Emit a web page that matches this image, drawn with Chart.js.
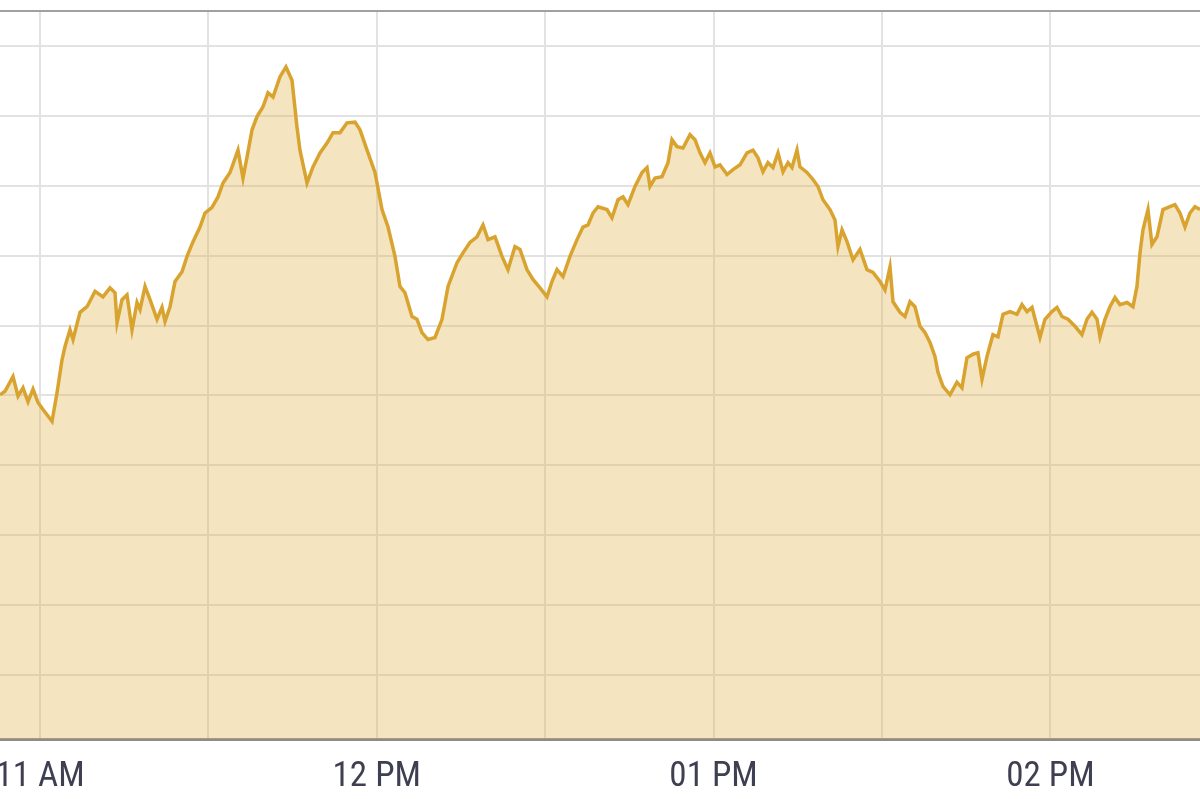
<!DOCTYPE html>
<html>
<head>
<meta charset="utf-8">
<script src="https://cdn.jsdelivr.net/npm/chart.js@4.4.1/dist/chart.umd.min.js"></script>
<style>
  html, body { margin: 0; padding: 0; background: #fff; }
  #priceChart { display: block; }
</style>
</head>
<body>
<canvas id="priceChart" width="1200" height="799"></canvas>
<script>
// minutes after 11:00
const minutes = [
  -7.13, -6.24, -4.81, -3.92, -3.03, -2.14, -1.25, -0.36, 0.53, 2.14,
  3.03, 3.92, 4.45, 5.34, 5.88, 7.13, 8.37, 9.80, 11.22, 12.47,
  13.36, 13.72, 14.61, 15.50, 16.39, 17.28, 17.82, 18.71, 19.60, 20.84,
  21.73, 22.27, 23.16, 24.05, 25.30, 26.19, 27.26, 28.50, 29.39, 30.64,
  31.71, 32.60, 33.85, 35.27, 36.16, 36.88, 37.77, 38.66, 39.73, 40.62,
  41.51, 42.76, 43.82, 44.89, 45.78, 46.31, 47.57, 48.63, 49.88, 51.13,
  52.20, 53.45, 54.69, 56.12, 57.01, 58.26, 59.68, 60.93, 62.00, 63.24,
  64.13, 65.02, 66.27, 67.16, 68.05, 69.12, 70.37, 71.62, 72.69, 74.29,
  75.36, 76.60, 77.85, 78.92, 79.81, 81.06, 82.31, 83.37, 84.62, 85.51,
  86.76, 87.83, 89.08, 90.32, 91.21, 92.10, 93.17, 94.42, 95.67, 96.73,
  97.63, 98.52, 99.41, 101.01, 101.90, 102.97, 103.86, 104.75, 106.00, 107.25,
  108.14, 108.67, 109.56, 110.81, 111.88, 112.59, 113.48, 114.55, 115.80, 116.69,
  117.58, 118.47, 119.36, 120.25, 121.14, 122.39, 123.46, 124.71, 125.95, 127.02,
  127.91, 128.80, 129.69, 130.58, 131.48, 132.37, 133.26, 133.97, 134.86, 135.39,
  136.64, 137.71, 138.60, 139.49, 140.74, 141.63, 142.16, 142.88, 143.77, 144.84,
  146.08, 147.33, 148.40, 149.65, 150.54, 151.43, 151.97, 153.21, 154.10, 154.99,
  155.88, 156.77, 157.66, 158.55, 159.44, 159.98, 160.87, 162.12, 163.36, 164.25,
  165.14, 166.21, 167.10, 167.82, 168.71, 169.77, 170.67, 171.56, 172.81, 174.05,
  174.94, 175.84, 176.73, 177.62, 178.15, 179.04, 180.29, 181.18, 182.07, 183.14,
  184.39, 185.63, 186.52, 187.41, 188.31, 188.84, 189.73, 190.62, 191.51, 192.40,
  193.65, 194.72, 195.43, 195.97, 196.50, 197.39, 198.10, 198.99, 200.06, 201.31,
  202.20, 203.09, 203.98, 204.87, 205.76, 206.66
];

const prices = [
  50.1, 50.6, 52.7, 49.9, 51.1, 49.1, 50.9, 49.0, 48.0, 46.3,
  50.4, 55.1, 57.0, 59.4, 58.0, 61.9, 62.7, 64.9, 64.1, 65.4,
  64.7, 60.4, 63.7, 64.4, 59.4, 63.3, 62.3, 65.6, 63.7, 60.9,
  62.6, 60.6, 62.7, 66.3, 67.7, 69.9, 72.0, 74.1, 76.1, 76.9,
  78.4, 80.4, 81.9, 85.1, 81.1, 84.1, 88.0, 89.9, 91.3, 93.3,
  92.7, 95.6, 97.0, 95.1, 88.4, 85.1, 80.4, 82.7, 84.7, 86.1,
  87.6, 87.6, 89.0, 89.1, 88.0, 85.1, 81.9, 76.6, 74.1, 69.9,
  65.6, 64.7, 61.3, 60.9, 59.0, 58.0, 58.3, 60.9, 65.6, 69.0,
  70.4, 71.9, 72.7, 74.4, 72.3, 72.7, 69.9, 68.0, 71.3, 70.9,
  68.0, 66.6, 65.4, 64.1, 66.3, 68.0, 67.0, 69.9, 72.3, 74.1,
  74.4, 76.1, 77.0, 76.6, 75.4, 78.0, 78.4, 77.3, 79.9, 81.9,
  82.6, 79.9, 81.1, 81.3, 83.3, 86.6, 85.6, 85.4, 87.3, 86.6,
  84.7, 83.3, 84.7, 82.7, 83.0, 81.6, 82.3, 83.0, 84.7, 85.1,
  84.0, 82.0, 83.3, 82.6, 84.7, 82.0, 83.3, 82.6, 85.1, 82.7,
  81.9, 80.9, 79.9, 78.0, 76.6, 75.1, 71.3, 73.7, 72.0, 69.4,
  70.9, 68.0, 67.6, 66.3, 65.1, 68.4, 63.4, 61.9, 61.3, 63.4,
  62.7, 59.9, 59.0, 57.6, 55.6, 53.3, 51.3, 50.1, 51.9, 51.1,
  55.4, 55.9, 56.1, 52.3, 55.6, 58.7, 58.4, 61.6, 62.0, 61.6,
  63.0, 62.0, 62.6, 59.9, 58.3, 60.9, 62.0, 62.6, 61.3, 60.9,
  59.9, 58.7, 60.9, 61.9, 60.9, 58.4, 60.9, 62.7, 64.0, 63.0,
  63.3, 62.7, 65.6, 70.4, 73.7, 76.6, 71.6, 72.7, 76.6, 77.0,
  77.3, 76.1, 74.1, 76.1, 77.0, 76.6
];

// gridlines
const timeGrid = [0, 30, 60, 90, 120, 150, 180];
const hourLabels = ["11 AM", "12 PM", "01 PM", "02 PM"];
const priceGrid = [10, 20, 30, 40, 50, 60, 70, 80, 90, 100];

const points = minutes.map((m, i) => ({ x: m, y: prices[i] }));

const ctx = document.getElementById("priceChart").getContext("2d");

new Chart(ctx, {
  type: "line",
  data: {
    datasets: [
      {
        data: points,
        borderColor: "#d9a32f",
        borderWidth: 3.5,
        backgroundColor: "rgba(225, 180, 80, 0.36)",
        fill: "start",
        pointRadius: 0,
        tension: 0,
      },
    ],
  },
  options: {
    responsive: false,
    animation: false,
    layout: { padding: { top: 11, bottom: -16, left: 0, right: 0 } },
    plugins: {
      legend: { display: false },
      tooltip: { enabled: false },
    },
    scales: {
      x: {
        type: "linear",
        min: minutes[0],
        max: minutes[minutes.length - 1],
        afterBuildTicks: (scale) => {
          scale.ticks = timeGrid.map((v) => ({ value: v }));
        },
        afterFit: (scale) => {
          scale.paddingLeft = 0;
          scale.paddingRight = 0;
        },
        grid: { color: "#e2e2e2", lineWidth: 2, drawTicks: false },
        border: { display: true, color: "#8c8c8c", width: 3 },
        ticks: {
          autoSkip: false,
          maxRotation: 0,
          padding: 17,
          color: "#3f3f52",
          font: { family: "'Liberation Sans Narrow', 'Roboto Condensed', Arial, sans-serif", size: 35 },
          callback: (v) => (v % 60 === 0 ? hourLabels[v / 60] : ""),
        },
      },
      xTop: {
        type: "linear",
        position: "top",
        grid: { display: false, drawTicks: false },
        ticks: { display: false },
        border: { display: true, color: "#a0a0a0", width: 2 },
      },
      y: {
        type: "linear",
        min: 0.86,
        max: 105,
        afterBuildTicks: (scale) => {
          scale.ticks = priceGrid.map((v) => ({ value: v }));
        },
        grid: { color: "#e2e2e2", lineWidth: 2, drawTicks: false },
        border: { display: false },
        ticks: { display: false },
      },
    },
  },
});
</script>
</body>
</html>
